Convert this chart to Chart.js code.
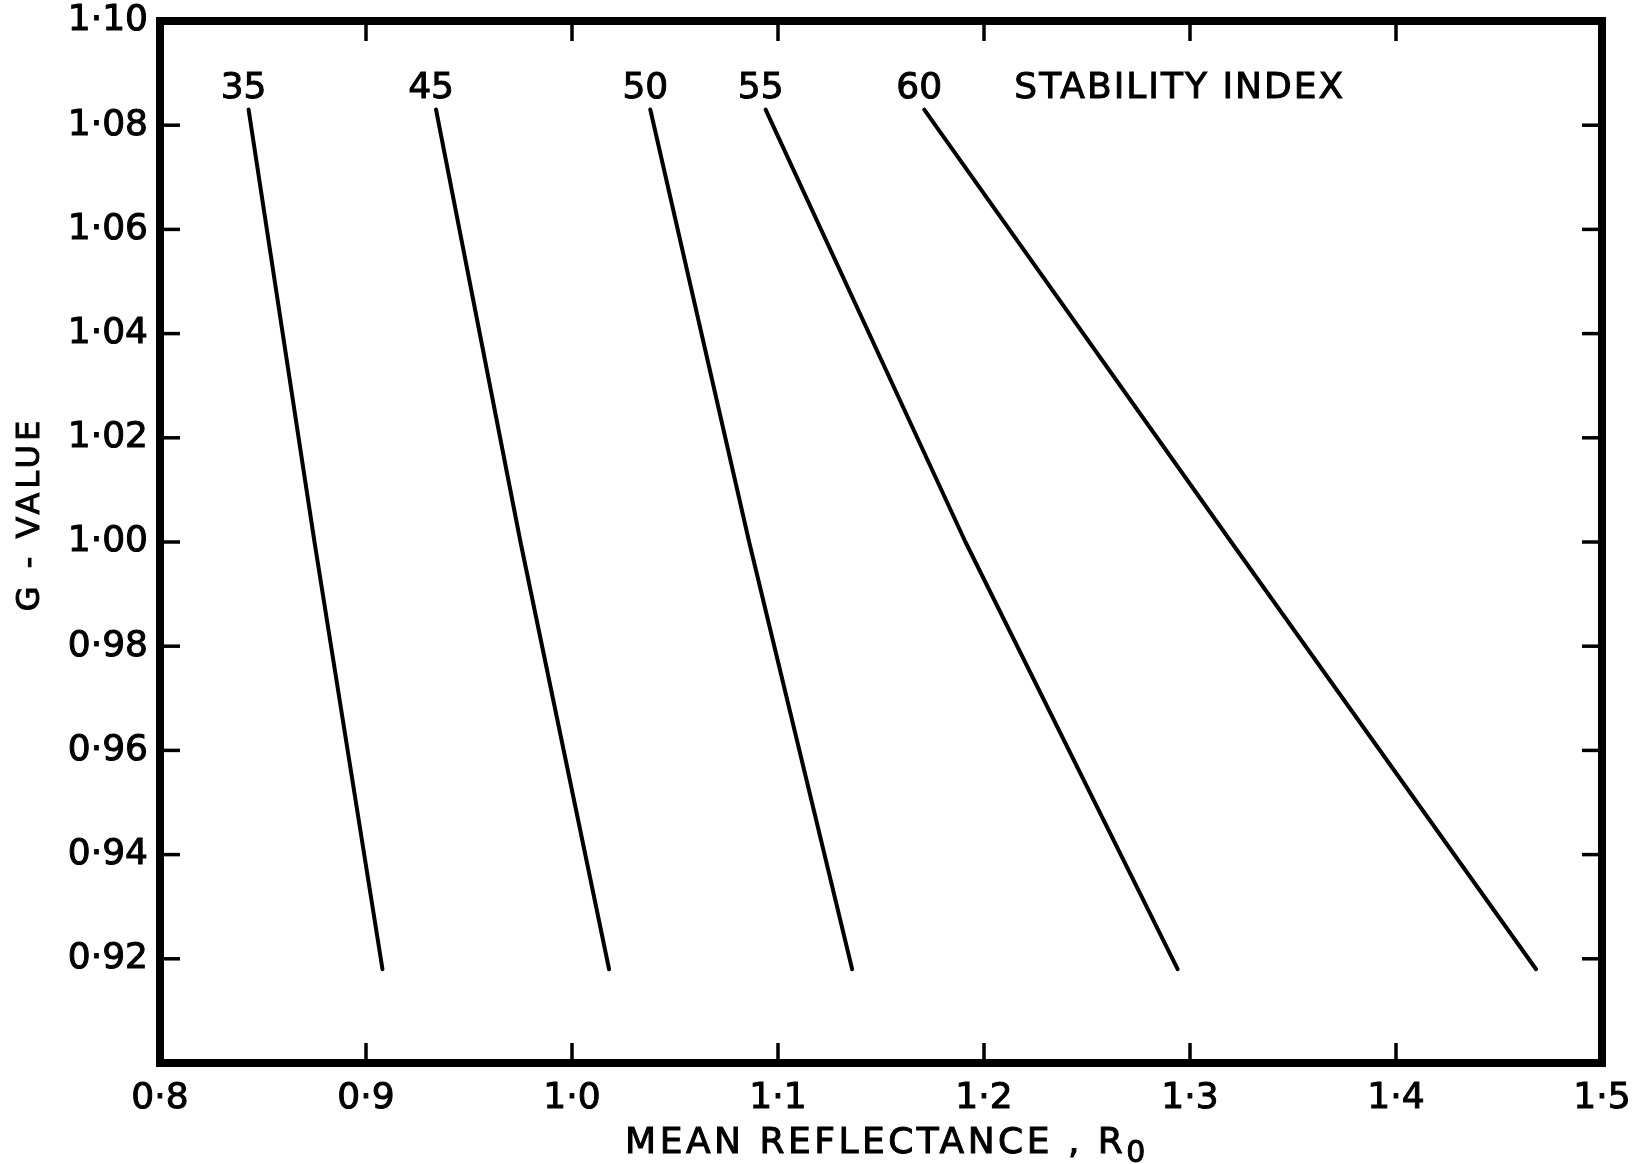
<!DOCTYPE html>
<html>
<head>
<meta charset="utf-8">
<title>G-value against mean reflectance</title>
<script src="https://cdn.jsdelivr.net/npm/chart.js@4.4.1/dist/chart.umd.min.js"></script>
<style>
  html, body { margin: 0; padding: 0; background: #fff; overflow: hidden; }
  #wrap { width: 1645px; height: 1164px; position: relative; }
</style>
</head>
<body>
<div id="wrap"><canvas id="chart"></canvas></div>
<script>
// G-value rows shared by every curve: top end, middle, bottom end
const gValues = [1.083, 1.000, 0.918];

// mean reflectance (Ro) along each stability-index curve, one per G-value row
const ro35 = [0.843, 0.875, 0.908];
const ro45 = [0.934, 0.975, 1.018];
const ro50 = [1.038, 1.086, 1.136];
const ro55 = [1.094, 1.191, 1.294];
const ro60 = [1.171, 1.320, 1.468];

const stabilityLabels = ['35', '45', '50', '55', '60'];
const stabilityCurves = [ro35, ro45, ro50, ro55, ro60];

const xTicks = [0.8, 0.9, 1.0, 1.1, 1.2, 1.3, 1.4, 1.5];
const xTickLabels = ['0·8', '0·9', '1·0', '1·1', '1·2', '1·3', '1·4', '1·5'];
const yTicks = [0.92, 0.94, 0.96, 0.98, 1.00, 1.02, 1.04, 1.06, 1.08, 1.10];
const yTickLabels = ['0·92', '0·94', '0·96', '0·98', '1·00', '1·02', '1·04', '1·06', '1·08', '1·10'];

const FONT = '"DejaVu Sans", sans-serif';

// filled text with a thin outline so the lettering reads a little heavier
function inkText(ctx, text, x, y) {
  ctx.fillText(text, x, y);
  ctx.strokeText(text, x, y);
}

// ===============================
// FRAME, INWARD TICKS, LABELS
// ===============================
const framePlugin = {
  id: 'frame',
  afterDraw(chart) {
    const { ctx, chartArea: a, scales: { x, y } } = chart;
    const seg = (x1, y1, x2, y2) => {
      ctx.beginPath();
      ctx.moveTo(x1, y1);
      ctx.lineTo(x2, y2);
      ctx.stroke();
    };

    ctx.save();
    ctx.strokeStyle = '#000';
    ctx.fillStyle = '#000';

    // tick marks point into the plot on all four sides
    ctx.lineWidth = 3.5;
    xTicks.slice(1, -1).forEach(v => {
      const px = x.getPixelForValue(v);
      seg(px, a.top, px, a.top + 20);
      seg(px, a.bottom, px, a.bottom - 20);
    });
    yTicks.slice(0, -1).forEach(v => {
      const py = y.getPixelForValue(v);
      seg(a.left, py, a.left + 20, py);
      seg(a.right, py, a.right - 20, py);
    });

    ctx.lineWidth = 8;
    ctx.strokeRect(a.left, a.top, a.width, a.height);

    // curve names above the top of each line
    ctx.lineWidth = 1;
    ctx.font = '36px ' + FONT;
    ctx.textAlign = 'center';
    ctx.textBaseline = 'middle';
    chart.data.datasets.forEach((ds, i) => {
      const p = ds.data[0];
      inkText(ctx, stabilityLabels[i], x.getPixelForValue(p.x) - 5, y.getPixelForValue(p.y) - 21);
    });
    ctx.letterSpacing = '2px';
    inkText(ctx, 'STABILITY INDEX', x.getPixelForValue(1.295), y.getPixelForValue(gValues[0]) - 21);

    // x axis title with subscript
    ctx.letterSpacing = '3.5px';
    ctx.textAlign = 'left';
    ctx.textBaseline = 'alphabetic';
    const main = 'MEAN REFLECTANCE , R';
    ctx.font = '36px ' + FONT;
    const wMain = ctx.measureText(main).width;
    ctx.font = '30px ' + FONT;
    const wSub = ctx.measureText('0').width;
    const x0 = (a.left + a.right) / 2 + 6 - (wMain + wSub) / 2;
    ctx.font = '36px ' + FONT;
    inkText(ctx, main, x0, a.bottom + 90);
    ctx.font = '30px ' + FONT;
    inkText(ctx, '0', x0 + wMain, a.bottom + 99);

    // y axis title
    ctx.letterSpacing = '4px';
    ctx.font = '32px ' + FONT;
    ctx.translate(31, (a.top + a.bottom) / 2 - 28);
    ctx.rotate(-Math.PI / 2);
    ctx.textAlign = 'center';
    ctx.textBaseline = 'middle';
    inkText(ctx, 'G - VALUE', 0, 0);

    ctx.restore();
  }
};

// ===============================
// CHART
// ===============================
const datasets = stabilityCurves.map((ro, i) => ({
  label: stabilityLabels[i],
  data: ro.map((r, j) => ({ x: r, y: gValues[j] })),
  showLine: true,
  borderColor: '#000',
  borderWidth: 4,
  borderCapStyle: 'round',
  borderJoinStyle: 'round',
  pointRadius: 0,
  tension: 0
}));

const tickFont = { family: FONT, size: 36 };

new Chart(document.getElementById('chart'), {
  type: 'scatter',
  data: { datasets },
  options: {
    responsive: true,
    maintainAspectRatio: false,
    animation: false,
    layout: { padding: { left: 0, top: 21, right: 43, bottom: 0 } },
    plugins: {
      legend: { display: false },
      tooltip: { enabled: false }
    },
    scales: {
      x: {
        type: 'linear',
        min: 0.8,
        max: 1.5,
        afterBuildTicks: s => { s.ticks = xTicks.map(v => ({ value: v })); },
        afterFit: s => {
          s.height = 101;
          s.paddingLeft = 0;
          s.paddingRight = 0;
        },
        grid: { display: false, drawTicks: false },
        border: { display: false },
        ticks: {
          autoSkip: false,
          maxRotation: 0,
          padding: 14,
          color: '#000',
          textStrokeColor: '#000',
          textStrokeWidth: 1,
          font: tickFont,
          callback: (v, i) => xTickLabels[i]
        }
      },
      y: {
        type: 'linear',
        min: 0.90,
        max: 1.10,
        afterBuildTicks: s => { s.ticks = yTicks.map(v => ({ value: v })); },
        afterFit: s => {
          s.width = 160;
          s.paddingTop = 0;
          s.paddingBottom = 0;
        },
        grid: { display: false, drawTicks: false },
        border: { display: false },
        ticks: {
          autoSkip: false,
          padding: 12,
          color: '#000',
          textStrokeColor: '#000',
          textStrokeWidth: 1,
          font: tickFont,
          callback: (v, i) => yTickLabels[i]
        }
      }
    }
  },
  plugins: [framePlugin]
});
</script>
</body>
</html>
